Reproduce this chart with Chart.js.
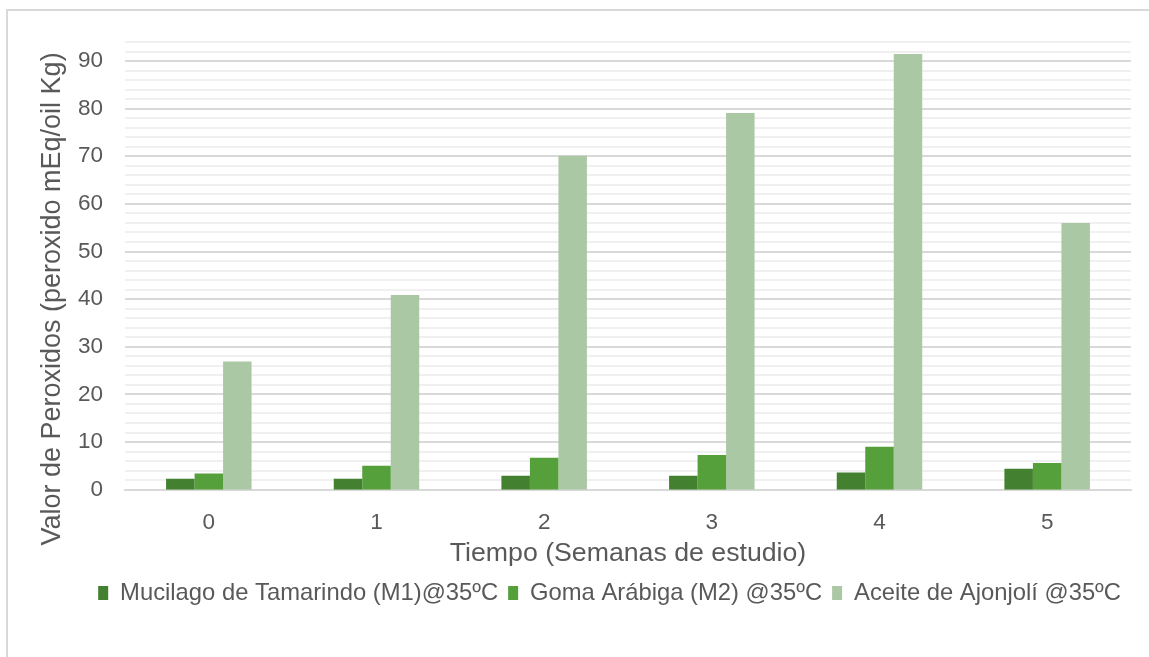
<!DOCTYPE html>
<html>
<head>
<meta charset="utf-8">
<script src="https://cdn.jsdelivr.net/npm/chart.js@4"></script>
<style>
  html, body { margin: 0; padding: 0; background: #fff; overflow: hidden; }
  #frame { position: absolute; left: 6px; top: 9px; width: 1200px; height: 700px;
           border-top: 2px solid #d9d9d9; border-left: 2px solid #d9d9d9; }
  #wrap { position: absolute; left: 0; top: 0; width: 1149px; height: 657px; }
</style>
</head>
<body>
<div id="frame"></div>
<div id="wrap"><canvas id="c" width="1149" height="657"></canvas></div>
<script>
const categories = ['0', '1', '2', '3', '4', '5'];
const seriesNames = ['Mucilago de Tamarindo (M1)@35ºC', 'Goma Arábiga (M2) @35ºC', 'Aceite de Ajonjolí @35ºC'];
const mucilago = [2.3, 2.3, 2.9, 2.9, 3.6, 4.4];
const goma = [3.4, 5.0, 6.7, 7.3, 9.0, 5.6];
const aceite = [26.9, 40.9, 70.1, 79.1, 91.5, 56.0];
const xTitle = 'Tiempo (Semanas de estudio)';
const yTitle = 'Valor de Peroxidos (peroxido mEq/oil Kg)';
const colors = ['#43802f', '#56a03c', '#abc8a4'];

const FONT = "'Liberation Sans', Arial, Helvetica, sans-serif";
const TXT = '#595959';

// Draws the y-axis title where the original places it (slightly below plot centre)
const yTitlePlugin = {
  id: 'yTitlePlugin',
  afterDraw(chart) {
    const ctx = chart.ctx;
    ctx.save();
    ctx.translate(53, 299);
    ctx.rotate(-Math.PI / 2);
    ctx.font = "27px " + FONT;
    ctx.fillStyle = TXT;
    ctx.textAlign = 'center';
    ctx.textBaseline = 'middle';
    ctx.fillText(yTitle, 0, 0);
    ctx.restore();
  }
};

new Chart(document.getElementById('c'), {
  type: 'bar',
  data: {
    labels: categories,
    datasets: [
      { label: seriesNames[0], data: mucilago, backgroundColor: colors[0] },
      { label: seriesNames[1], data: goma, backgroundColor: colors[1] },
      { label: seriesNames[2], data: aceite, backgroundColor: colors[2] }
    ]
  },
  plugins: [yTitlePlugin],
  options: {
    responsive: false,
    animation: false,
    devicePixelRatio: 1,
    layout: { padding: { left: 30, right: 18, top: 42, bottom: 42 } },
    datasets: { bar: { categoryPercentage: 0.51, barPercentage: 1.0 } },
    scales: {
      x: {
        grid: { display: false, drawTicks: false },
        border: { display: true, color: '#d9d9d9', width: 2 },
        ticks: { color: TXT, font: { family: FONT, size: 22.5 }, padding: 19.5 },
        title: { display: true, text: xTitle, color: TXT,
                 font: { family: FONT, size: 26.7 }, padding: { top: -18, bottom: 1.5 } }
      },
      y: {
        min: 0, max: 94,
        afterFit: (s) => { s.width = 95; },
        grid: {
          drawTicks: false,
          color: (ctx) => (ctx.tick && ctx.tick.value % 10 === 0) ? '#d9d9d9' : '#f0f0f0',
          lineWidth: (ctx) => (ctx.tick && ctx.tick.value === 0) ? 0 : 2
        },
        border: { display: false },
        ticks: {
          stepSize: 2, autoSkip: false, color: TXT, padding: 22,
          font: { family: FONT, size: 22.5 },
          callback: (v) => (v % 10 === 0 ? String(v) : '')
        },
        title: { display: false, text: yTitle }
      }
    },
    plugins: {
      legend: {
        position: 'bottom',
        align: 'end',
        labels: { color: TXT, font: { family: FONT, size: 23.8 }, boxWidth: 10, boxHeight: 14, padding: 10 }
      },
      tooltip: { enabled: false }
    }
  }
});
</script>
</body>
</html>
